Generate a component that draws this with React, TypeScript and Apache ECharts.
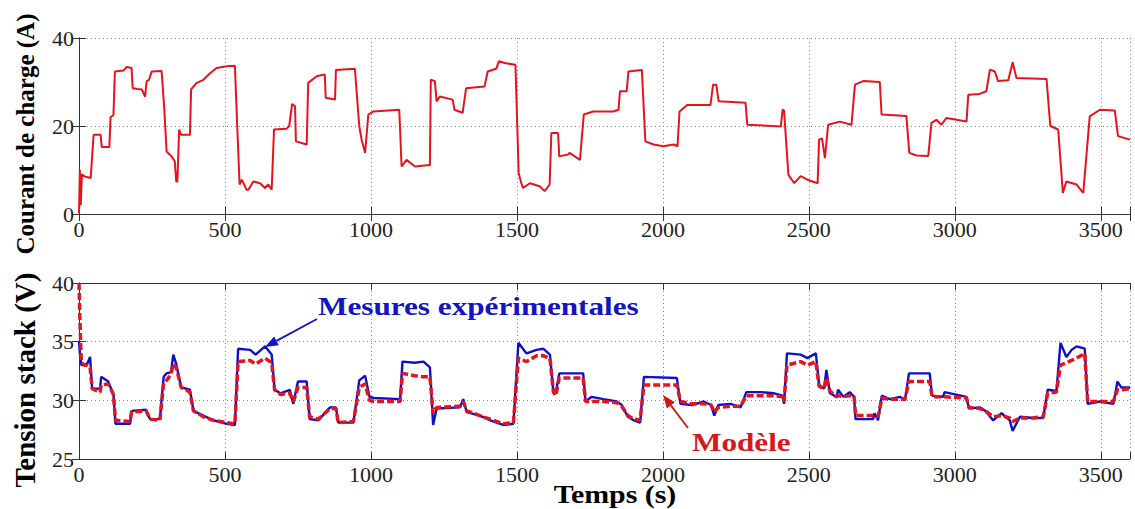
import React, { useEffect, useRef } from 'react';
import * as echarts from 'echarts';

// ---- Data ----
const tCourant = [
  0, 3, 6, 10, 20, 40, 50, 74, 78, 104, 108, 118, 123, 152, 163, 180, 184, 200, 215, 226,
  232, 240, 249, 283, 292, 300, 317, 328, 333, 337, 343, 350, 380, 384, 403, 426, 449, 471, 506, 534,
  542, 550, 558, 574, 580, 597, 620, 637, 648, 660, 668, 711, 720, 730, 740, 743, 780, 785, 814, 842,
  845, 877, 880, 945, 960, 968, 980, 991, 1008, 1097, 1105, 1122, 1151, 1191, 1202, 1205, 1219, 1225, 1236, 1280,
  1286, 1314, 1326, 1389, 1400, 1429, 1438, 1458, 1495, 1506, 1515, 1521, 1544, 1578, 1595, 1612, 1618, 1641, 1645, 1675,
  1680, 1716, 1729, 1761, 1830, 1848, 1853, 1876, 1882, 1928, 1940, 1968, 2002, 2037, 2050, 2057, 2083, 2163, 2172, 2183,
  2191, 2283, 2289, 2404, 2410, 2415, 2430, 2450, 2472, 2495, 2530, 2535, 2545, 2555, 2566, 2606, 2646, 2658, 2686, 2743,
  2749, 2834, 2844, 2869, 2909, 2920, 2937, 2954, 2971, 3040, 3046, 3085, 3108, 3120, 3137, 3148, 3183, 3198, 3211, 3314,
  3327, 3354, 3370, 3382, 3417, 3440, 3462, 3497, 3548, 3559, 3600
];
const courant = [
  0.2, 10, 2, 9, 8.5, 8.2, 18, 18, 15.2, 15.2, 22, 22.5, 32.4, 32.6, 33.4, 33.2, 28.6, 28.4, 28.3, 26.7,
  30.2, 30.5, 32.4, 32.5, 24, 14.2, 13.1, 12, 7.4, 7.4, 19.2, 18, 18, 28.3, 29.8, 30.5, 32, 33.2, 33.6, 33.7,
  20, 6.7, 7.8, 5.5, 5.5, 7.4, 7, 5.9, 6.7, 5.5, 19.2, 19.4, 20, 25, 24.5, 16.5, 15.8, 29.8, 31.3, 31.7,
  26.4, 26, 32.7, 33, 20, 16.9, 13.9, 22.6, 23.3, 23.7, 10.8, 12.3, 10.8, 11.1, 11.1, 30.5, 30.2, 25.6, 26.7, 26,
  23.7, 23, 28.6, 29, 32.4, 33, 34.7, 34.3, 33.9, 9.3, 7, 5.9, 7, 6.3, 5.2, 6.7, 18.4, 18.4, 13.1, 13.5,
  13.9, 12.3, 22.6, 23.3, 23.3, 23.7, 27.9, 27.9, 32.4, 32.7, 16.5, 15.8, 15.4, 15.8, 15.4, 23.3, 24.8, 24.8, 29.4, 29.4,
  25.6, 25.3, 20.3, 19.9, 23.7, 23.5, 8.9, 7, 8.6, 7.8, 7, 16.9, 17.2, 12.7, 20.3, 21, 20.3, 29.4, 30.2, 30,
  22.6, 22.3, 13.9, 13.3, 13.2, 20.7, 21.4, 20.3, 21.8, 21, 27.1, 27.3, 27.9, 32.8, 32.4, 30.2, 30.4, 34.5, 30.9, 30.7,
  20, 19.2, 4.8, 7.4, 6.7, 4.8, 22.2, 23.7, 23.5, 17.7, 16.9
];

const tTension = [
  0, 3, 8, 20, 30, 38, 45, 72, 76, 100, 118, 125, 175, 180, 230, 243, 277, 290, 300, 315,
  323, 333, 350, 380, 392, 426, 460, 506, 534, 545, 586, 605, 637, 660, 670, 690, 722, 734, 750, 780,
  790, 820, 860, 880, 888, 940, 960, 980, 995, 1010, 1100, 1108, 1150, 1180, 1202, 1213, 1225, 1305, 1316, 1328,
  1373, 1408, 1453, 1488, 1505, 1533, 1567, 1590, 1613, 1625, 1633, 1645, 1727, 1735, 1756, 1796, 1842, 1859, 1880, 1900,
  1922, 1935, 2048, 2060, 2100, 2140, 2165, 2176, 2190, 2232, 2266, 2286, 2335, 2381, 2410, 2415, 2425, 2472, 2495, 2524,
  2535, 2552, 2560, 2572, 2595, 2600, 2618, 2640, 2655, 2660, 2720, 2725, 2737, 2750, 2777, 2812, 2829, 2843, 2914, 2922,
  2960, 2965, 3040, 3048, 3086, 3105, 3131, 3160, 3188, 3198, 3223, 3268, 3303, 3318, 3348, 3362, 3382, 3400, 3417, 3445,
  3455, 3497, 3543, 3557, 3570, 3600
];
const mesures = [
  35, 34, 33, 33, 33.2, 33.7, 31, 31, 32, 31.6, 30.5, 28, 28, 29.1, 29.2, 28.4, 28.4, 32, 32.3, 32.4,
  33.9, 33.1, 31.1, 30.9, 29.1, 28.7, 28.3, 28, 27.9, 34.4, 34.3, 33.9, 34.6, 33.9, 30.9, 30.6, 30.9, 29.7, 31.6, 31.6,
  28.4, 28.3, 29.4, 29.4, 28.1, 28.1, 31.7, 32.1, 30.3, 30.2, 30.1, 33.3, 33.2, 33.3, 32.8, 27.9, 29.3, 29.4, 30.1, 29,
  28.7, 28.3, 27.9, 28, 34.9, 34, 34.3, 34.4, 33.9, 30.7, 30.6, 32.3, 32.3, 29.9, 30.3, 30.1, 29.9, 29.6, 28.6, 28.3,
  28.1, 32, 31.9, 29.7, 29.6, 29.9, 29.6, 28.7, 29.6, 29.7, 29.4, 30.7, 30.7, 30.6, 30.4, 29.7, 34, 33.9, 33.6, 34,
  31.3, 31, 32.6, 30.6, 30.3, 30.9, 30.3, 30.7, 30.3, 28.4, 28.4, 28.9, 28.3, 30.4, 30.1, 30.3, 30, 32.3, 32.3, 30.4,
  30.3, 30.7, 30.3, 29.3, 29.4, 29.1, 28.3, 28.9, 28.3, 27.4, 28.6, 28.5, 28.5, 30.9, 30.8, 34.9, 33.7, 34.3, 34.6, 34.4,
  29.7, 29.9, 29.7, 31.6, 31.1, 31.1
];
const modele = [
  40, 37, 33.2, 33, 33, 32.8, 31, 30.7, 31.3, 31.4, 30.5, 28.3, 28.2, 29, 29.1, 28.4, 28.3, 31.5, 31.7, 32.2,
  33.1, 32.8, 31.1, 30.7, 29.1, 28.6, 28.3, 28.1, 28, 33.3, 33.4, 33.1, 33.6, 33.2, 30.9, 30.5, 30.6, 29.9, 31.1, 31.1,
  28.6, 28.4, 29.3, 29.3, 28.1, 28.2, 31.1, 31.4, 30, 29.9, 29.9, 32.3, 32.1, 32, 32, 28.9, 29.4, 29.5, 29.9, 29.1,
  28.7, 28.4, 28, 28.1, 33.6, 33.3, 33.8, 33.8, 33.6, 30.7, 30.4, 31.9, 31.9, 29.9, 29.9, 29.9, 29.8, 29.5, 28.7, 28.4,
  28.3, 31.3, 31.3, 29.9, 29.7, 29.7, 29.6, 29, 29.4, 29.5, 29.5, 30.4, 30.4, 30.4, 30.3, 29.9, 33, 33.3, 33, 33.3,
  31.2, 31, 31.9, 30.8, 30.3, 30.4, 30.3, 30.4, 30.3, 28.7, 28.7, 28.7, 28.6, 30.2, 30.1, 30.1, 30.1, 31.6, 31.6, 30.3,
  30.3, 30.3, 30.2, 29.4, 29.3, 29.1, 28.6, 28.7, 28.5, 28.2, 28.5, 28.5, 28.6, 30.6, 30.7, 33, 33.2, 33.4, 33.6, 34,
  29.9, 29.9, 29.9, 30.9, 30.9, 31
];

const xMax = 3600;
const xStep = 500;
const courantRange = [0, 40, 20];
const tensionRange = [25, 40, 5];

const labelMesures = 'Mesures expérimentales';
const labelModele = 'Modèle';
const nameCourant = 'Courant de charge (A)';
const nameTension = 'Tension stack (V)';
const nameTemps = 'Temps (s)';

const RED = '#e5141c';
const BLUE = '#1010c8';
const SERIF = '"Liberation Serif", "Times New Roman", serif';

function arrow(x1: number, y1: number, x2: number, y2: number, color: string) {
  const dx = x2 - x1, dy = y2 - y1;
  const len = Math.sqrt(dx * dx + dy * dy);
  const ux = dx / len, uy = dy / len;
  const hl = 13, hw = 5;
  const bx = x2 - ux * hl, by = y2 - uy * hl;
  const px = -uy * hw, py = ux * hw;
  return [
    { type: 'line', shape: { x1, y1, x2: bx, y2: by }, style: { stroke: color, lineWidth: 1.8 }, z: 100 },
    {
      type: 'polygon',
      shape: { points: [[x2, y2], [bx + px, by + py], [bx - px, by - py]] },
      style: { fill: color },
      z: 100,
    },
  ];
}

export default function App() {
  const ref = useRef<HTMLDivElement>(null);
  useEffect(() => {
    const chart = echarts.init(ref.current!, null, { renderer: 'svg' });
    const axisLine = { lineStyle: { color: '#333', width: 1 } };
    const tick = { inside: true, length: 7, lineStyle: { color: '#333' } };
    const labelStyle = { fontFamily: SERIF, fontSize: 22, color: '#222' };
    const split = { show: true, lineStyle: { type: [1, 3], color: '#888', width: 1 } };

    const xMain = (gi: number) => ({
      type: 'value', gridIndex: gi, min: 0, max: xMax, interval: xStep, position: 'bottom',
      axisLine, axisTick: tick, splitLine: split,
      axisLabel: { ...labelStyle, margin: 4, formatter: (v: number) => (v % xStep === 0 ? String(v) : '') },
    });
    const xTop = (gi: number) => ({
      type: 'value', gridIndex: gi, min: 0, max: xMax, interval: xStep, position: 'top',
      axisLine, axisTick: tick, splitLine: { show: false }, axisLabel: { show: false },
    });
    const yMain = (gi: number, r: number[]) => ({
      type: 'value', gridIndex: gi, min: r[0], max: r[1], interval: r[2], position: 'left',
      axisLine, axisTick: tick, splitLine: split,
      axisLabel: { ...labelStyle, margin: 5 },
    });
    const yRight = (gi: number, r: number[]) => ({
      type: 'value', gridIndex: gi, min: r[0], max: r[1], interval: r[2], position: 'right',
      axisLine, axisTick: tick, splitLine: { show: false }, axisLabel: { show: false },
    });

    const zip = (t: number[], v: number[]) => t.map((x, i) => [x, v[i]]);

    const option = {
      animation: false,
      backgroundColor: '#fff',
      grid: [
        { left: 79, top: 38, width: 1051, height: 176 },
        { left: 79, top: 283, width: 1051, height: 176 },
      ],
      xAxis: [xMain(0), xMain(1), xTop(0), xTop(1)],
      yAxis: [yMain(0, courantRange), yMain(1, tensionRange), yRight(0, courantRange), yRight(1, tensionRange)],
      series: [
        {
          name: nameCourant, type: 'line', xAxisIndex: 0, yAxisIndex: 0, showSymbol: false,
          data: zip(tCourant, courant), lineStyle: { color: RED, width: 2 }, itemStyle: { color: RED },
        },
        {
          name: labelMesures, type: 'line', xAxisIndex: 1, yAxisIndex: 1, showSymbol: false,
          data: zip(tTension, mesures), lineStyle: { color: BLUE, width: 2.4 }, itemStyle: { color: BLUE },
        },
        {
          name: labelModele, type: 'line', xAxisIndex: 1, yAxisIndex: 1, showSymbol: false, z: 3,
          data: zip(tTension, modele), lineStyle: { color: RED, width: 3.5, type: [7, 3] }, itemStyle: { color: RED },
        },
      ],
      graphic: [
        {
          type: 'text', x: 25, y: 134, rotation: Math.PI / 2,
          style: { text: nameCourant, fontFamily: SERIF, fontWeight: 'bold', fontSize: 25, fill: '#000', align: 'center', verticalAlign: 'middle' },
        },
        {
          type: 'text', x: 25, y: 380, rotation: Math.PI / 2,
          style: { text: nameTension, fontFamily: SERIF, fontWeight: 'bold', fontSize: 29, fill: '#000', align: 'center', verticalAlign: 'middle' },
        },
        {
          type: 'text', x: 615, y: 494,
          style: { text: nameTemps, fontFamily: SERIF, fontWeight: 'bold', fontSize: 26, fill: '#000', align: 'center', verticalAlign: 'middle' },
          scaleX: 1.15,
        },
        {
          type: 'text', x: 318, y: 306, scaleX: 1.2,
          style: { text: labelMesures, fontFamily: SERIF, fontWeight: 'bold', fontSize: 26, fill: '#1414c0', align: 'left', verticalAlign: 'middle' },
          z: 100,
        },
        {
          type: 'text', x: 692, y: 442, scaleX: 1.2,
          style: { text: labelModele, fontFamily: SERIF, fontWeight: 'bold', fontSize: 26, fill: '#d81818', align: 'left', verticalAlign: 'middle' },
          z: 100,
        },
        ...arrow(317, 319, 265, 347, '#1414c0'),
        ...arrow(688, 428, 663, 395, '#c81818'),
      ],
    };
    chart.setOption(option as any);
    return () => chart.dispose();
  }, []);
  return (
    <div
      ref={ref}
      style={{ position: 'absolute', left: 0, top: 0, width: 1135, height: 509, background: '#fff' }}
    />
  );
}
